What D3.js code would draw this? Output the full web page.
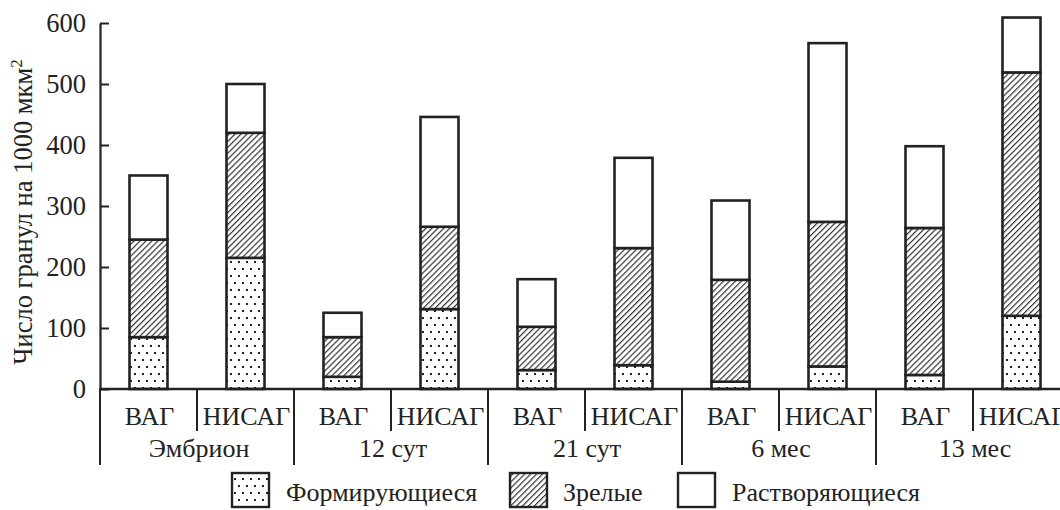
<!DOCTYPE html>
<html>
<head>
<meta charset="utf-8">
<script src="https://cdn.jsdelivr.net/npm/d3@7"></script>
<style>
  html, body { margin: 0; padding: 0; background: #fff; }
  svg { display: block; }
  svg text { font-family: "Liberation Serif", "Times New Roman", serif; fill: #222; }
</style>
</head>
<body>
<svg id="chart" width="1060" height="510"></svg>
<script>
// Periods and cell types
const periods = ["Эмбрион", "12 сут", "21 сут", "6 мес", "13 мес"];
const cellTypes = ["ВАГ", "НИСАГ"];

// Granule counts per 1000 µm², one value per bar (period × cell type)
const forming    = [85, 215, 20, 131, 31, 39, 12, 37, 23, 120];
const mature     = [160, 205, 65, 135, 71, 192, 167, 237, 241, 399];
const dissolving = [105, 80, 40, 180, 78, 148, 130, 293, 134, 90];

const yTicks = [0, 100, 200, 300, 400, 500, 600];
const seriesKeys = ["forming", "mature", "dissolving"];
const seriesNames = ["Формирующиеся", "Зрелые", "Растворяющиеся"];
const yTitle = "Число гранул на 1000 мкм";

const rows = forming.map((f, i) => ({
  id: i,
  period: periods[Math.floor(i / 2)],
  type: cellTypes[i % 2],
  forming: f,
  mature: mature[i],
  dissolving: dissolving[i]
}));

const svg = d3.select("#chart");
const ink = "#222";
const fontSize = "26px";

// Fill patterns
const defs = svg.append("defs");
const dots = defs.append("pattern").attr("id", "dots")
  .attr("patternUnits", "userSpaceOnUse").attr("width", 8).attr("height", 14);
dots.append("rect").attr("width", 8).attr("height", 14).attr("fill", "#fff");
dots.append("rect").attr("x", 2).attr("y", 2).attr("width", 2).attr("height", 2).attr("fill", ink);
dots.append("rect").attr("x", 6).attr("y", 9).attr("width", 2).attr("height", 2).attr("fill", ink);

const hatch = defs.append("pattern").attr("id", "hatch")
  .attr("patternUnits", "userSpaceOnUse").attr("width", 4.2).attr("height", 10)
  .attr("patternTransform", "rotate(45)");
hatch.append("rect").attr("width", 4.2).attr("height", 10).attr("fill", "#fff");
hatch.append("line").attr("x1", 0.6).attr("x2", 0.6).attr("y1", 0).attr("y2", 10)
  .attr("stroke", ink).attr("stroke-width", 1.1);

const fills = { forming: "url(#dots)", mature: "url(#hatch)", dissolving: "#fff" };

// Scales
const axisX = 100, baseY = 389;
const x = d3.scaleBand().domain(rows.map(d => d.id)).range([axisX, 1070]).padding(0);
const y = d3.scaleLinear().domain([0, 600]).range([baseY, 23]);
const barW = 38;

// Stacked bars
const stacked = d3.stack().keys(seriesKeys)(rows);
const layer = svg.append("g");
stacked.forEach(s => {
  layer.append("g").selectAll("rect").data(s).join("rect")
    .attr("x", d => x(d.data.id) + (x.bandwidth() - barW) / 2)
    .attr("width", barW)
    .attr("y", d => y(d[1]))
    .attr("height", d => y(d[0]) - y(d[1]))
    .attr("fill", fills[s.key])
    .attr("stroke", ink)
    .attr("stroke-width", 2.6);
});

// Y axis
const yAxis = svg.append("g").attr("transform", `translate(${axisX},0)`)
  .call(d3.axisLeft(y).tickValues(yTicks).tickSizeInner(-9).tickSizeOuter(0).tickPadding(14));
yAxis.attr("font-family", null).attr("font-size", null);
yAxis.select(".domain").attr("stroke", ink).attr("stroke-width", 2.2);
yAxis.selectAll(".tick line").attr("stroke", ink).attr("stroke-width", 2);
yAxis.selectAll(".tick text").style("font-size", "26.5px").attr("fill", ink);

// Y-axis title
const title = svg.append("text")
  .attr("transform", "translate(32,212) rotate(-90)")
  .attr("text-anchor", "middle")
  .style("font-size", "26.5px");
title.append("tspan").text(yTitle);
title.append("tspan").text("2").attr("dy", -10).style("font-size", "17px");

// Baseline
svg.append("line").attr("x1", axisX - 1).attr("x2", 1060).attr("y1", baseY).attr("y2", baseY)
  .attr("stroke", ink).attr("stroke-width", 2.4);

// Category separators: long ones between periods, short ones between cell types
const boundaries = d3.range(rows.length).map(i => ({ x: x(i), major: i % 2 === 0 }));
svg.append("g").selectAll("line").data(boundaries).join("line")
  .attr("x1", d => d.x).attr("x2", d => d.x)
  .attr("y1", baseY).attr("y2", d => d.major ? 465 : 431)
  .attr("stroke", ink).attr("stroke-width", 2);

// Cell type labels
svg.append("g").selectAll("text").data(rows).join("text")
  .attr("x", d => x(d.id) + x.bandwidth() / 2 + 1)
  .attr("y", 425)
  .attr("text-anchor", "middle")
  .style("font-size", fontSize)
  .text(d => d.type);

// Period labels
svg.append("g").selectAll("text").data(periods).join("text")
  .attr("x", (d, i) => x(i * 2) + x.bandwidth() + 2)
  .attr("y", 457)
  .attr("text-anchor", "middle")
  .style("font-size", fontSize)
  .text(d => d);

// Legend
const legendPos = [{ box: 232, text: 286 }, { box: 510, text: 563 }, { box: 678, text: 732 }];
const legend = svg.append("g");
seriesKeys.forEach((k, i) => {
  legend.append("rect")
    .attr("x", legendPos[i].box).attr("y", 473)
    .attr("width", 37).attr("height", 34)
    .attr("fill", fills[k]).attr("stroke", ink).attr("stroke-width", 2.4);
  legend.append("text")
    .attr("x", legendPos[i].text).attr("y", 501)
    .style("font-size", fontSize)
    .text(seriesNames[i]);
});
</script>
</body>
</html>
